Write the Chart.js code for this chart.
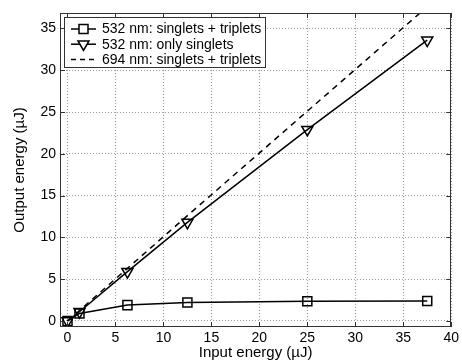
<!DOCTYPE html>
<html>
<head>
<meta charset="utf-8">
<script src="https://cdn.jsdelivr.net/npm/chart.js@4/dist/chart.umd.min.js"></script>
<style>
body { margin: 0; background: #fff; }
</style>
</head>
<body>
<canvas id="myChart" width="462" height="362"></canvas>
<script>
var inputEnergy = [0, 1.25, 6.25, 12.5, 25, 37.5];
var st532 = [0, 0.9, 1.9, 2.2, 2.35, 2.4];
var singlets532 = [0, 1.1, 5.9, 11.8, 22.9, 33.6];
var st694 = [0, 1.25, 6.3, 12.6, 25.1, 37.6];
var seriesNames = ['532 nm: singlets + triplets', '532 nm: only singlets', '694 nm: singlets + triplets'];
var xTicks = [0, 5, 10, 15, 20, 25, 30, 35, 40];
var yTicks = [0, 5, 10, 15, 20, 25, 30, 35];

var font = '"Liberation Sans", Arial, Helvetica, sans-serif';

function pts(ys) {
  var out = [];
  for (var i = 0; i < inputEnergy.length; i++) out.push({x: inputEnergy[i], y: ys[i]});
  return out;
}

function marker(ctx, style, x, y) {
  ctx.beginPath();
  if (style == 'rect') {
    ctx.rect(x - 4.5, y - 4.5, 9, 9);
  } else if (style == 'tri') {
    ctx.moveTo(x - 5.5, y - 3.2);
    ctx.lineTo(x + 5.5, y - 3.2);
    ctx.lineTo(x, y + 6.3);
    ctx.closePath();
  } else {
    return;
  }
  ctx.fillStyle = '#fff';
  ctx.fill();
  ctx.stroke();
}

var frame = {
  id: 'frame',
  afterDraw: function(chart) {
    var ctx = chart.ctx, a = chart.chartArea, sx = chart.scales.x, sy = chart.scales.y;
    ctx.save();
    ctx.strokeStyle = '#333';
    ctx.lineWidth = 1;
    ctx.setLineDash([]);
    ctx.strokeRect(Math.round(a.left) + 0.5, Math.round(a.top) + 0.5, Math.round(a.right - a.left) - 1, Math.round(a.bottom - a.top) - 1);
    ctx.beginPath();
    xTicks.forEach(function(v) {
      var px = Math.round(sx.getPixelForValue(v)) + 0.5;
      ctx.moveTo(px, a.bottom); ctx.lineTo(px, a.bottom - 5);
      ctx.moveTo(px, a.top); ctx.lineTo(px, a.top + 5);
    });
    yTicks.forEach(function(v) {
      var py = Math.round(sy.getPixelForValue(v)) + 0.5;
      ctx.moveTo(a.left, py); ctx.lineTo(a.left + 5, py);
      ctx.moveTo(a.right, py); ctx.lineTo(a.right - 5, py);
    });
    ctx.stroke();

    // legend
    var lx = 64.5, ly = 17.5, lw = 201, lh = 50;
    ctx.fillStyle = '#fff';
    ctx.fillRect(lx, ly, lw, lh);
    ctx.strokeStyle = '#333';
    ctx.strokeRect(lx, ly, lw, lh);
    var styles = ['rect', 'tri', 'none'];
    var dashes = [[], [], [5, 4]];
    ctx.font = '14px ' + font;
    ctx.textBaseline = 'middle';
    for (var i = 0; i < seriesNames.length; i++) {
      var yy = 29 + i * 15.2;
      ctx.strokeStyle = '#000';
      ctx.lineWidth = 1.5;
      ctx.setLineDash(dashes[i]);
      ctx.beginPath();
      ctx.moveTo(71, yy); ctx.lineTo(96, yy);
      ctx.stroke();
      ctx.setLineDash([]);
      marker(ctx, styles[i], 83.5, yy);
      ctx.fillStyle = '#000';
      ctx.fillText(seriesNames[i], 102, yy + 0.5);
    }
    ctx.restore();
  }
};

var ctx = document.getElementById('myChart').getContext('2d');
var myChart = new Chart(ctx, {
  type: 'line',
  data: {
    datasets: [{
      label: seriesNames[0],
      data: pts(st532),
      borderColor: '#000',
      borderWidth: 1.5,
      pointStyle: 'rect',
      pointRadius: 6.4,
      pointBorderWidth: 1.5,
      pointBackgroundColor: 'rgba(255,255,255,0)',
      pointBorderColor: '#000',
      fill: false
    }, {
      label: seriesNames[1],
      data: pts(singlets532),
      borderColor: '#000',
      borderWidth: 1.5,
      pointStyle: 'triangle',
      pointRotation: 180,
      pointRadius: 6.4,
      pointBorderWidth: 1.5,
      pointBackgroundColor: 'rgba(255,255,255,0)',
      pointBorderColor: '#000',
      fill: false
    }, {
      label: seriesNames[2],
      data: pts(st694),
      borderColor: '#000',
      borderWidth: 1.5,
      borderDash: [6, 5],
      pointRadius: 0,
      fill: false
    }]
  },
  options: {
    responsive: false,
    animation: false,
    layout: { padding: { top: 13, right: 7, left: 0, bottom: 0 } },
    plugins: { legend: { display: false }, tooltip: { enabled: false } },
    scales: {
      x: {
        type: 'linear',
        min: -0.78,
        max: 40,
        afterBuildTicks: function(s) { s.ticks = xTicks.map(function(v) { return {value: v}; }); },
        afterFit: function(s) { s.height = 35; },
        grid: { color: '#999', drawTicks: false, lineWidth: 1 },
        border: { display: false, dash: [1, 2] },
        ticks: { color: '#000', font: { family: font, size: 14 }, padding: 3, maxRotation: 0 },
        title: { display: true, text: 'Input energy (µJ)', color: '#000', font: { family: font, size: 15 }, padding: { top: 0, bottom: 0 } }
      },
      y: {
        type: 'linear',
        min: -0.72,
        max: 36.85,
        afterBuildTicks: function(s) { s.ticks = yTicks.map(function(v) { return {value: v}; }); },
        afterFit: function(s) { s.width = 60; },
        grid: { color: '#999', drawTicks: false, lineWidth: 1 },
        border: { display: false, dash: [1, 2] },
        ticks: { color: '#000', font: { family: font, size: 14 }, padding: 4 },
        title: { display: true, text: 'Output energy (µJ)', color: '#000', font: { family: font, size: 15 }, padding: { top: 11, bottom: 0 } }
      }
    }
  },
  plugins: [frame]
});
</script>
</body>
</html>
